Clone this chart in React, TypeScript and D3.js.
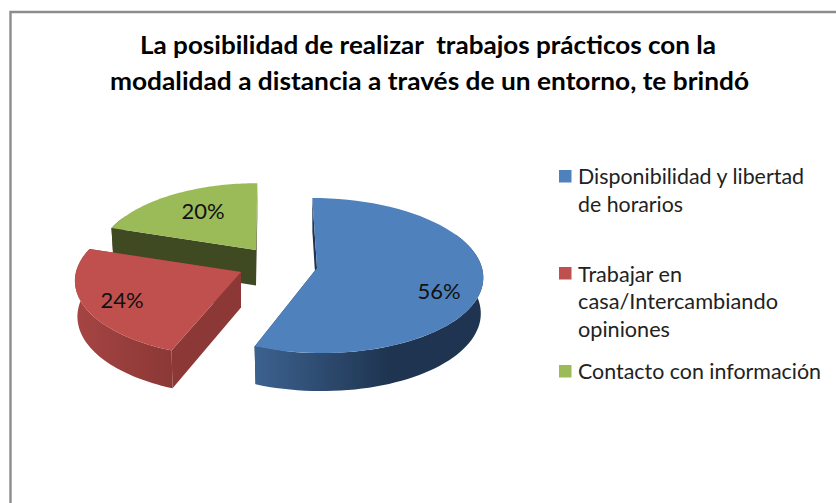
import React from "react";
import * as d3 from "d3";

const W = 836;
const H = 503;
const categories = ["Disponibilidad y libertad de horarios", "Trabajar en casa/Intercambiando opiniones", "Contacto con información"];
const values = [56, 24, 20];
const valueLabels = ["56%", "24%", "20%"];
const titleLines = ["La posibilidad de realizar  trabajos prácticos con la", "modalidad a distancia a través de un entorno, te brindó"];
const legendLines = [["Disponibilidad y libertad", "de horarios"], ["Trabajar en", "casa/Intercambiando", "opiniones"], ["Contacto con información"]];
const topColors = ["#4f81bd", "#c0504d", "#9bbb59"];
const sideFrom = ["#3c628f", "#a54543", "#404a22"];
const sideTo = ["#1e3450", "#8b3836", "#404a22"];
const faceColors = ["#1e3450", "#8c3836", "#404a22"];

// Layout of the exploded wedges and the legend
const centres = [{ x: 317, y: 268 }, { x: 241, y: 272 }, { x: 256, y: 250 }];
const radialScale = [1, 1, 0.95];
const labelPos = [{ x: 439, y: 299 }, { x: 122, y: 308 }, { x: 203, y: 219 }];
const legendSwatchY = [170, 267, 365];
const legendBaselines = [[184, 212], [282, 309, 337], [379]];
const legendWidths = [[226, 105], [104, 200, 92], [243]];
const titleSpans = [{ x: 140, w: 576, y: 54 }, { x: 110, w: 639, y: 90 }];

const RX = 165;
const RY = 76.8;
const K = 0.097;
const DEPTH = 35.5;
const VANISH_X = 270;

type P = [number, number];

function project(i: number, angle: number, r: number, lower: boolean): P {
  const c = centres[i];
  const rs = radialScale[i] * r;
  const u = Math.sin(angle) * rs;
  const v = -Math.cos(angle) * rs;
  const s = 1 / (1 - K * v);
  const shrink = lower ? 0.985 : 1;
  const shear = (c.x - VANISH_X) * 0.1 * v;
  return [
    c.x + shear * shrink + u * RX * s * shrink,
    c.y + v * RY * s * shrink + (lower ? DEPTH * s : 0),
  ];
}

const pts = (start: number, end: number, lower: boolean, i: number): P[] =>
  d3.range(0, 61).map((n) => project(i, start + ((end - start) * n) / 60, 1, lower));

const closed = d3.line<P>().curve(d3.curveLinearClosed);

const arcs = d3.pie<number>().sort(null).startAngle(0).endAngle(2 * Math.PI)(values);

function Slice({ i }: { i: number }) {
  const a = arcs[i];
  const apexTop = project(i, 0, 0, false);
  const apexLow = project(i, 0, 0, true);
  const top = [apexTop, ...pts(a.startAngle, a.endAngle, false, i)];
  const sideStart = Math.max(a.startAngle, Math.PI * 0.35);
  const sideEnd = Math.min(a.endAngle, Math.PI * 1.65);
  const side = [...pts(sideStart, sideEnd, false, i), ...pts(sideStart, sideEnd, true, i).reverse()];
  const xs = side.map((p) => p[0]);
  const startTop = project(i, a.startAngle, 1, false);
  const startLow = project(i, a.startAngle, 1, true);
  const endTop = project(i, a.endAngle, 1, false);
  const endLow = project(i, a.endAngle, 1, true);
  const gid = `side-${i}`;
  return (
    <g>
      <defs>
        <linearGradient id={gid} gradientUnits="userSpaceOnUse" x1={d3.min(xs)} x2={i === 0 ? 390 : d3.max(xs)} y1={0} y2={0}>
          <stop offset="0" stopColor={sideFrom[i]} />
          <stop offset="1" stopColor={sideTo[i]} />
        </linearGradient>
      </defs>
      <path d={closed([apexTop, startTop, startLow, apexLow]) ?? ""} fill={faceColors[i]} />
      <path d={closed([apexTop, endTop, endLow, apexLow]) ?? ""} fill={faceColors[i]} />
      <path d={closed(side) ?? ""} fill={`url(#${gid})`} />
      <path d={closed(top) ?? ""} fill={topColors[i]} />
    </g>
  );
}

export default function App() {
  const font = "Lato, 'Noto Sans', sans-serif";
  return (
    <svg width={W} height={H} viewBox={`0 0 ${W} ${H}`} style={{ position: "absolute", left: 0, top: 0, background: "#fff" }}>
      <rect x={0} y={0} width={W} height={H} fill="#fff" />
      <path d={`M${W} 12 H10.5 V${H}`} fill="none" stroke="#8c8c8c" strokeWidth={2.4} />
      {titleLines.map((t, i) => (
        <text key={t} x={titleSpans[i].x} y={titleSpans[i].y} textLength={titleSpans[i].w} lengthAdjust="spacingAndGlyphs"
          fontFamily={font} fontWeight={700} fontSize={24} fill="#000" style={{ whiteSpace: "pre" }}>{t}</text>
      ))}
      {[2, 1, 0].map((i) => <Slice key={i} i={i} />)}
      {valueLabels.map((t, i) => (
        <text key={t} x={labelPos[i].x} y={labelPos[i].y} textAnchor="middle" fontFamily={font} fontSize={22} fill="#111">{t}</text>
      ))}
      {categories.map((c, i) => (
        <g key={c}>
          <rect x={559} y={legendSwatchY[i]} width={12.5} height={12.5} fill={topColors[i]} />
          {legendLines[i].map((l, j) => (
            <text key={l} x={578} y={legendBaselines[i][j]} textLength={legendWidths[i][j]} lengthAdjust="spacingAndGlyphs"
              fontFamily={font} fontSize={22} fill="#222">{l}</text>
          ))}
        </g>
      ))}
    </svg>
  );
}
